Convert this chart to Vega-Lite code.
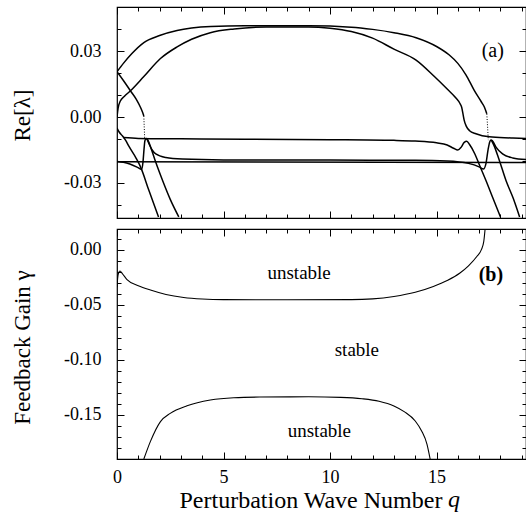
{
  "$schema": "https://vega.github.io/schema/vega-lite/v6.json",
  "padding": {"left": 10, "top": 5, "right": 0, "bottom": 0},
  "spacing": 11,
  "bounds": "flush",
  "config": {
    "view": {"stroke": "black", "strokeWidth": 1.2},
    "axis": {"labelFont": "Liberation Serif, serif", "titleFont": "Liberation Serif, serif", "labelColor": "black", "titleColor": "black", "tickColor": "black", "tickWidth": 1, "titleFontWeight": "normal", "grid": false, "domain": false},
    "text": {"font": "Liberation Serif, serif", "color": "black"}
  },
  "datasets": {
    "re": [
      {"s":"A","q":0,"v":0.0207},{"s":"A","q":0.3,"v":0.0245},{"s":"A","q":0.7,"v":0.029},{"s":"A","q":1.26,"v":0.034},{"s":"A","q":2,"v":0.0372},{"s":"A","q":2.82,"v":0.0395},{"s":"A","q":3.5,"v":0.0406},{"s":"A","q":4.4,"v":0.0413},{"s":"A","q":6,"v":0.0416},{"s":"A","q":9,"v":0.0416},{"s":"A","q":11,"v":0.041},{"s":"A","q":12,"v":0.04},{"s":"A","q":13,"v":0.0385},{"s":"A","q":14.04,"v":0.0362},{"s":"A","q":15,"v":0.0322},{"s":"A","q":15.6,"v":0.0283},{"s":"A","q":16,"v":0.0245},{"s":"A","q":16.38,"v":0.0193},{"s":"A","q":16.77,"v":0.0122},{"s":"A","q":17.1,"v":0.007},{"s":"A","q":17.25,"v":0.0045},{"s":"A","q":17.36,"v":0.0015},
      {"s":"B","q":0,"v":0},{"s":"B","q":0.05,"v":0.004},{"s":"B","q":0.15,"v":0.0072},{"s":"B","q":0.35,"v":0.0095},{"s":"B","q":0.63,"v":0.012},{"s":"B","q":1.26,"v":0.0185},{"s":"B","q":2.04,"v":0.0267},{"s":"B","q":2.82,"v":0.032},{"s":"B","q":3.5,"v":0.0355},{"s":"B","q":4.38,"v":0.0385},{"s":"B","q":5.5,"v":0.0402},{"s":"B","q":7,"v":0.0411},{"s":"B","q":9,"v":0.0411},{"s":"B","q":10,"v":0.0405},{"s":"B","q":11,"v":0.039},{"s":"B","q":12,"v":0.036},{"s":"B","q":13,"v":0.031},{"s":"B","q":14.04,"v":0.026},{"s":"B","q":14.9,"v":0.0185},{"s":"B","q":15.5,"v":0.0128},{"s":"B","q":15.9,"v":0.0088},{"s":"B","q":16.1,"v":0.0062},{"s":"B","q":16.18,"v":0.0045},{"s":"B","q":16.25,"v":0.001},{"s":"B","q":16.3,"v":-0.0015},{"s":"B","q":16.4,"v":-0.0042},{"s":"B","q":16.55,"v":-0.0062},{"s":"B","q":16.85,"v":-0.0076},{"s":"B","q":17.48,"v":-0.009},{"s":"B","q":18.5,"v":-0.0095},{"s":"B","q":19.2,"v":-0.0098},
      {"s":"C","q":0,"v":0.0207},{"s":"C","q":0.3,"v":0.0167},{"s":"C","q":0.63,"v":0.012},{"s":"C","q":0.9,"v":0.0082},{"s":"C","q":1.1,"v":0.0045},{"s":"C","q":1.2,"v":0.0022},{"s":"C","q":1.26,"v":0.0005},
      {"s":"D","q":0,"v":-0.0202},{"s":"D","q":0.3,"v":-0.0206},{"s":"D","q":0.6,"v":-0.0214},{"s":"D","q":0.96,"v":-0.0229},{"s":"D","q":1.15,"v":-0.0238},{"s":"D","q":1.22,"v":-0.0205},{"s":"D","q":1.27,"v":-0.0145},{"s":"D","q":1.31,"v":-0.0108},{"s":"D","q":1.37,"v":-0.0097},{"s":"D","q":1.43,"v":-0.0102},{"s":"D","q":1.6,"v":-0.0143},{"s":"D","q":1.82,"v":-0.0206},{"s":"D","q":2.14,"v":-0.0289},{"s":"D","q":2.5,"v":-0.0375},{"s":"D","q":2.9,"v":-0.0455},
      {"s":"E","q":1.4,"v":-0.0099},{"s":"E","q":1.5,"v":-0.0121},{"s":"E","q":1.65,"v":-0.015},{"s":"E","q":1.82,"v":-0.0168},{"s":"E","q":2.29,"v":-0.0184},{"s":"E","q":3.07,"v":-0.0191},{"s":"E","q":5,"v":-0.0195},{"s":"E","q":10,"v":-0.0196},{"s":"E","q":14,"v":-0.0197},{"s":"E","q":15.5,"v":-0.02},{"s":"E","q":16.5,"v":-0.0211},{"s":"E","q":17,"v":-0.0227},{"s":"E","q":17.2,"v":-0.0237},{"s":"E","q":17.32,"v":-0.0212},{"s":"E","q":17.42,"v":-0.0148},{"s":"E","q":17.5,"v":-0.0112},{"s":"E","q":17.56,"v":-0.0104},{"s":"E","q":17.63,"v":-0.0109},{"s":"E","q":17.8,"v":-0.0138},{"s":"E","q":18.1,"v":-0.0168},{"s":"E","q":18.58,"v":-0.0186},{"s":"E","q":19.2,"v":-0.0193},
      {"s":"F","q":17.58,"v":-0.0106},{"s":"F","q":17.7,"v":-0.013},{"s":"F","q":17.95,"v":-0.0198},{"s":"F","q":18.26,"v":-0.0289},{"s":"F","q":18.6,"v":-0.037},{"s":"F","q":18.9,"v":-0.0455},
      {"s":"G","q":0,"v":-0.005},{"s":"G","q":0.1,"v":-0.0068},{"s":"G","q":0.26,"v":-0.0086},{"s":"G","q":0.4,"v":-0.0105},{"s":"G","q":0.57,"v":-0.0135},{"s":"G","q":0.9,"v":-0.0188},{"s":"G","q":1.1,"v":-0.0226},{"s":"G","q":1.5,"v":-0.0335},{"s":"G","q":1.95,"v":-0.0455},
      {"s":"H","q":0.3,"v":-0.0093},{"s":"H","q":1,"v":-0.0097},{"s":"H","q":3,"v":-0.0099},{"s":"H","q":6,"v":-0.0101},{"s":"H","q":10,"v":-0.0103},{"s":"H","q":13,"v":-0.0106},{"s":"H","q":14,"v":-0.0109},{"s":"H","q":15,"v":-0.0117},{"s":"H","q":15.5,"v":-0.0127},{"s":"H","q":15.8,"v":-0.0142},{"s":"H","q":16,"v":-0.015},{"s":"H","q":16.15,"v":-0.0138},{"s":"H","q":16.3,"v":-0.0115},{"s":"H","q":16.42,"v":-0.011},{"s":"H","q":16.55,"v":-0.0125},{"s":"H","q":16.8,"v":-0.0168},{"s":"H","q":17,"v":-0.0215},{"s":"H","q":17.32,"v":-0.0289},{"s":"H","q":17.65,"v":-0.037},{"s":"H","q":18,"v":-0.0455},
      {"s":"S","q":0,"v":-0.0204},{"s":"S","q":19.2,"v":-0.0207}
    ],
    "reDotted": [
      {"s":"C","q":1.26,"v":0.0005},{"s":"C","q":1.28,"v":-0.005},{"s":"C","q":1.3,"v":-0.0098},
      {"s":"A","q":17.36,"v":0.0015},{"s":"A","q":17.4,"v":-0.005},{"s":"A","q":17.43,"v":-0.0105}
    ],
    "gain": [
      {"s":"U","q":0,"v":-0.034},{"s":"U","q":0.03,"v":-0.026},{"s":"U","q":0.08,"v":-0.0205},{"s":"U","q":0.14,"v":-0.0192},{"s":"U","q":0.25,"v":-0.0215},{"s":"U","q":0.47,"v":-0.027},{"s":"U","q":1,"v":-0.0325},{"s":"U","q":1.57,"v":-0.0365},{"s":"U","q":2.3,"v":-0.0405},{"s":"U","q":3.13,"v":-0.0432},{"s":"U","q":4,"v":-0.0446},{"s":"U","q":5,"v":-0.0452},{"s":"U","q":8,"v":-0.0453},{"s":"U","q":11,"v":-0.0452},{"s":"U","q":12,"v":-0.0445},{"s":"U","q":13,"v":-0.0423},{"s":"U","q":14,"v":-0.0385},{"s":"U","q":14.85,"v":-0.0332},{"s":"U","q":15.5,"v":-0.0278},{"s":"U","q":16.1,"v":-0.021},{"s":"U","q":16.5,"v":-0.0145},{"s":"U","q":16.9,"v":-0.0058},{"s":"U","q":17.1,"v":0},{"s":"U","q":17.22,"v":0.008},{"s":"U","q":17.28,"v":0.019},
      {"s":"L","q":1.26,"v":-0.19},{"s":"L","q":1.57,"v":-0.174},{"s":"L","q":2.04,"v":-0.156},{"s":"L","q":2.5,"v":-0.1485},{"s":"L","q":3.29,"v":-0.1416},{"s":"L","q":4.38,"v":-0.1364},{"s":"L","q":5.48,"v":-0.1343},{"s":"L","q":6.7,"v":-0.1337},{"s":"L","q":9,"v":-0.1335},{"s":"L","q":10.5,"v":-0.134},{"s":"L","q":11.5,"v":-0.1352},{"s":"L","q":12.3,"v":-0.1375},{"s":"L","q":13,"v":-0.1418},{"s":"L","q":13.5,"v":-0.1472},{"s":"L","q":14,"v":-0.1555},{"s":"L","q":14.3,"v":-0.1645},{"s":"L","q":14.55,"v":-0.1765},{"s":"L","q":14.7,"v":-0.19}
    ],
    "regions": [
      {"t":"unstable","q":8.55,"v":-0.0213},
      {"t":"stable","q":11.26,"v":-0.0909},
      {"t":"unstable","q":9.5,"v":-0.165}
    ]
  },
  "vconcat": [
    {
      "width": 409,
      "height": 211,
      "resolve": {"axis": {"x": "independent", "y": "independent"}},
      "layer": [
        {
          "data": {"name": "re"},
          "mark": {"type": "line", "interpolate": "monotone", "color": "black", "strokeWidth": 1.5, "clip": true},
          "encoding": {
            "x": {"field": "q", "type": "quantitative", "scale": {"domain": [0, 19.2], "nice": false, "zero": false}, "axis": null},
            "y": {"field": "v", "type": "quantitative", "scale": {"domain": [-0.046, 0.0502], "nice": false, "zero": false},
                  "axis": {"orient": "left", "values": [-0.03, 0, 0.03], "ticks": false, "tickSize": 0, "labelPadding": 16, "labelFontSize": 18,
                           "labelExpr": "datum.value < 0 ? '-' + format(-datum.value, '.2f') : format(datum.value, '.2f')",
                           "title": "Re[λ]", "titleFontSize": 23, "titleAngle": -90, "titleX": -87.5, "titleY": 108, "titleBaseline": "alphabetic", "titleAlign": "center"}},
            "detail": {"field": "s"}
          }
        },
        {
          "data": {"name": "reDotted"},
          "mark": {"type": "line", "color": "black", "strokeWidth": 1, "strokeDash": [1, 1.6], "clip": true},
          "encoding": {
            "x": {"field": "q", "type": "quantitative", "scale": {"domain": [0, 19.2], "nice": false, "zero": false}, "axis": null},
            "y": {"field": "v", "type": "quantitative", "scale": {"domain": [-0.046, 0.0502], "nice": false, "zero": false}, "axis": null},
            "detail": {"field": "s"}
          }
        },
        {
          "mark": {"type": "rule", "color": "#555555", "strokeWidth": 1, "strokeDash": [7, 5]},
          "encoding": {
            "y": {"datum": 0, "type": "quantitative", "scale": {"domain": [-0.046, 0.0502], "nice": false, "zero": false}, "axis": null}
          }
        },
        {
          "data": {"values": [{"t": "(a)", "q": 17.64, "v": 0.0301}]},
          "mark": {"type": "text", "fontSize": 20, "align": "center", "baseline": "middle"},
          "encoding": {
            "x": {"field": "q", "type": "quantitative", "scale": {"domain": [0, 19.2], "nice": false, "zero": false}, "axis": null},
            "y": {"field": "v", "type": "quantitative", "scale": {"domain": [-0.046, 0.0502], "nice": false, "zero": false}, "axis": null},
            "text": {"field": "t"}
          }
        },
        {
          "data": {"name": "re"},
          "mark": {"type": "point", "opacity": 0},
          "encoding": {
            "x": {"field": "q", "type": "quantitative", "scale": {"domain": [0, 19.2], "nice": false, "zero": false},
                  "axis": {"orient": "bottom", "offset": -211, "values": [0,1,2,3,4,5,6,7,8,9,10,11,12,13,14,15,16,17,18,19], "labels": false, "title": null,
                           "tickSize": {"condition": {"test": "abs(datum.value - 5 * round(datum.value / 5)) < 0.001", "value": 7}, "value": 4}}},
            "y": {"field": "v", "type": "quantitative", "scale": {"domain": [-0.046, 0.0502], "nice": false, "zero": false},
                  "axis": {"orient": "right", "offset": -409, "values": [-0.04,-0.03,-0.02,-0.01,0,0.01,0.02,0.03,0.04,0.05], "labels": false, "title": null,
                           "tickSize": {"condition": {"test": "abs(datum.value * 100 - 3 * round(datum.value * 100 / 3)) < 0.001", "value": 7}, "value": 4}}}
          }
        },
        {
          "data": {"name": "re"},
          "mark": {"type": "point", "opacity": 0},
          "encoding": {
            "x": {"field": "q", "type": "quantitative", "scale": {"domain": [0, 19.2], "nice": false, "zero": false},
                  "axis": {"orient": "top", "offset": -211, "values": [0,1,2,3,4,5,6,7,8,9,10,11,12,13,14,15,16,17,18,19], "labels": false, "title": null,
                           "tickSize": {"condition": {"test": "abs(datum.value - 5 * round(datum.value / 5)) < 0.001", "value": 7}, "value": 4}}},
            "y": {"field": "v", "type": "quantitative", "scale": {"domain": [-0.046, 0.0502], "nice": false, "zero": false},
                  "axis": {"orient": "left", "offset": -409, "values": [-0.04,-0.03,-0.02,-0.01,0,0.01,0.02,0.03,0.04,0.05], "labels": false, "title": null,
                           "tickSize": {"condition": {"test": "abs(datum.value * 100 - 3 * round(datum.value * 100 / 3)) < 0.001", "value": 7}, "value": 4}}}
          }
        }
      ]
    },
    {
      "width": 409,
      "height": 230,
      "resolve": {"axis": {"x": "independent", "y": "independent"}},
      "layer": [
        {
          "data": {"name": "gain"},
          "mark": {"type": "line", "interpolate": "monotone", "color": "black", "strokeWidth": 1.1, "clip": true},
          "encoding": {
            "x": {"field": "q", "type": "quantitative", "scale": {"domain": [0, 19.2], "nice": false, "zero": false},
                  "axis": {"orient": "bottom", "values": [0, 5, 10, 15], "ticks": false, "tickSize": 0, "labelPadding": 9, "labelFontSize": 18, "labelFlush": false,
                           "title": "Perturbation Wave Number", "titleFontSize": 24, "titleAlign": "left", "titleX": 62, "titleY": 48, "titleBaseline": "alphabetic"}},
            "y": {"field": "v", "type": "quantitative", "scale": {"domain": [-0.19, 0.019], "nice": false, "zero": false},
                  "axis": {"orient": "left", "values": [-0.15, -0.1, -0.05, 0], "ticks": false, "tickSize": 0, "labelPadding": 16, "labelFontSize": 18,
                           "labelExpr": "datum.value < 0 ? '-' + format(-datum.value, '.2f') : format(datum.value, '.2f')",
                           "title": "Feedback Gain γ", "titleFontSize": 23, "titleAngle": -90, "titleX": -87.5, "titleY": 118, "titleBaseline": "alphabetic", "titleAlign": "center"}},
            "detail": {"field": "s"}
          }
        },
        {
          "data": {"values": [{"t": "q", "q": 15.82, "v": -0.19}]},
          "mark": {"type": "text", "fontSize": 24, "fontStyle": "italic", "align": "center", "baseline": "alphabetic", "dy": 48},
          "encoding": {
            "x": {"field": "q", "type": "quantitative", "scale": {"domain": [0, 19.2], "nice": false, "zero": false}, "axis": null},
            "y": {"field": "v", "type": "quantitative", "scale": {"domain": [-0.19, 0.019], "nice": false, "zero": false}, "axis": null},
            "text": {"field": "t"}
          }
        },
        {
          "data": {"name": "regions"},
          "mark": {"type": "text", "fontSize": 19, "align": "center", "baseline": "middle"},
          "encoding": {
            "x": {"field": "q", "type": "quantitative", "scale": {"domain": [0, 19.2], "nice": false, "zero": false}, "axis": null},
            "y": {"field": "v", "type": "quantitative", "scale": {"domain": [-0.19, 0.019], "nice": false, "zero": false}, "axis": null},
            "text": {"field": "t"}
          }
        },
        {
          "data": {"values": [{"t": "(b)", "q": 17.55, "v": -0.0225}]},
          "mark": {"type": "text", "fontSize": 20, "fontWeight": "bold", "align": "center", "baseline": "middle"},
          "encoding": {
            "x": {"field": "q", "type": "quantitative", "scale": {"domain": [0, 19.2], "nice": false, "zero": false}, "axis": null},
            "y": {"field": "v", "type": "quantitative", "scale": {"domain": [-0.19, 0.019], "nice": false, "zero": false}, "axis": null},
            "text": {"field": "t"}
          }
        },
        {
          "data": {"name": "gain"},
          "mark": {"type": "point", "opacity": 0},
          "encoding": {
            "x": {"field": "q", "type": "quantitative", "scale": {"domain": [0, 19.2], "nice": false, "zero": false},
                  "axis": {"orient": "bottom", "offset": -230, "values": [0,1,2,3,4,5,6,7,8,9,10,11,12,13,14,15,16,17,18,19], "labels": false, "title": null,
                           "tickSize": {"condition": {"test": "abs(datum.value - 5 * round(datum.value / 5)) < 0.001", "value": 7}, "value": 4}}},
            "y": {"field": "v", "type": "quantitative", "scale": {"domain": [-0.19, 0.019], "nice": false, "zero": false},
                  "axis": {"orient": "right", "offset": -409, "values": [-0.18,-0.17,-0.16,-0.15,-0.14,-0.13,-0.12,-0.11,-0.1,-0.09,-0.08,-0.07,-0.06,-0.05,-0.04,-0.03,-0.02,-0.01,0,0.01], "labels": false, "title": null,
                           "tickSize": {"condition": {"test": "abs(datum.value * 100 - 5 * round(datum.value * 100 / 5)) < 0.001", "value": 7}, "value": 4}}}
          }
        },
        {
          "data": {"name": "gain"},
          "mark": {"type": "point", "opacity": 0},
          "encoding": {
            "x": {"field": "q", "type": "quantitative", "scale": {"domain": [0, 19.2], "nice": false, "zero": false},
                  "axis": {"orient": "top", "offset": -230, "values": [0,1,2,3,4,5,6,7,8,9,10,11,12,13,14,15,16,17,18,19], "labels": false, "title": null,
                           "tickSize": {"condition": {"test": "abs(datum.value - 5 * round(datum.value / 5)) < 0.001", "value": 7}, "value": 4}}},
            "y": {"field": "v", "type": "quantitative", "scale": {"domain": [-0.19, 0.019], "nice": false, "zero": false},
                  "axis": {"orient": "left", "offset": -409, "values": [-0.18,-0.17,-0.16,-0.15,-0.14,-0.13,-0.12,-0.11,-0.1,-0.09,-0.08,-0.07,-0.06,-0.05,-0.04,-0.03,-0.02,-0.01,0,0.01], "labels": false, "title": null,
                           "tickSize": {"condition": {"test": "abs(datum.value * 100 - 5 * round(datum.value * 100 / 5)) < 0.001", "value": 7}, "value": 4}}}
          }
        }
      ]
    }
  ]
}
